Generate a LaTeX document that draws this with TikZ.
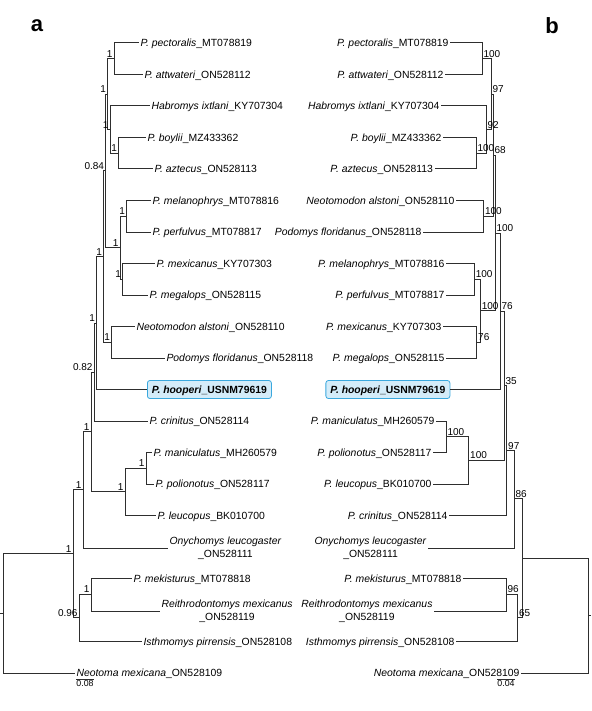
\documentclass[tikz,border=0pt]{standalone}
\usepackage{fontspec}
\setmainfont{Liberation Sans}
\usepackage{tikz}

\definecolor{hoopfill}{RGB}{212,236,249}
\definecolor{hoopline}{RGB}{58,168,222}

\begin{document}
\begin{tikzpicture}[x=1pt, y=-1pt, line width=1pt,
		every node/.style={inner sep=1pt},
		br/.style={draw=black!82},
		lt/.style={anchor=west, font=\fontsize{10.4}{12.5}\selectfont, text height=7.4pt, text depth=0.3pt},
		rt/.style={lt, anchor=east},
		lt2/.style={anchor=west, align=center, font=\fontsize{10.4}{13.3}\selectfont},
		rt2/.style={lt2, anchor=east},
		lhoop/.style={anchor=west, draw=hoopline, fill=hoopfill, rounded corners=2.5pt, line width=0.8pt, inner xsep=4.5pt, minimum height=18pt, font=\fontsize{10.4}{12.5}\selectfont\bfseries, text height=7.4pt, text depth=0.3pt},
		rhoop/.style={lhoop, anchor=east},
		lsup/.style={anchor=south east, font=\fontsize{10}{12}\selectfont},
		rsup/.style={anchor=south west, font=\fontsize{10}{12}\selectfont},
		scl/.style={below, font=\fontsize{8.8}{10}\selectfont},
		panel/.style={font=\fontsize{22}{24}\selectfont\bfseries}]
		\useasboundingbox (0,0) rectangle (591,711);
		\node[panel] (pa) at (37,26) {a};
		\node[panel] (pb) at (552,26) {b};
		
		\coordinate (astub) at (0,613.35);
		\coordinate (aR) at (3,613.35);
		\coordinate (aA) at (73,553.7);
		\coordinate (aB) at (83,489.5);
		\coordinate (aC) at (79,617.9);
		\coordinate (aD) at (91,431.95);
		\coordinate (aE) at (94,372);
		\coordinate (aF) at (125,491.9);
		\coordinate (aG) at (146,468.25);
		\coordinate (aH) at (96.5,323.05);
		\coordinate (aI) at (103.5,256.6);
		\coordinate (aJ) at (105.5,171);
		\coordinate (aK) at (111.5,342.25);
		\coordinate (aP) at (107.5,94.2);
		\coordinate (aQ) at (120,247.75);
		\coordinate (aS1) at (126.5,216.25);
		\coordinate (aS2) at (122.5,279.25);
		\coordinate (aT) at (114,58.75);
		\coordinate (aU) at (110,129.6);
		\coordinate (aV) at (118.5,153.25);
		\coordinate (aW) at (91,594.25);
		
		\node[lt] (apect) at (139,43) {\textit{P. pectoralis}\_MT078819};
		\node[lt] (aattw) at (143,74.5) {\textit{P. attwateri}\_ON528112};
		\node[lt] (ahab) at (150,106) {\textit{Habromys ixtlani}\_KY707304};
		\node[lt] (aboy) at (146,137.5) {\textit{P. boylii}\_MZ433362};
		\node[lt] (aazt) at (153,169) {\textit{P. aztecus}\_ON528113};
		\node[lt] (amel) at (151,200.5) {\textit{P. melanophrys}\_MT078816};
		\node[lt] (aperf) at (151,232) {\textit{P. perfulvus}\_MT078817};
		\node[lt] (amex) at (155,263.5) {\textit{P. mexicanus}\_KY707303};
		\node[lt] (ameg) at (148,295) {\textit{P. megalops}\_ON528115};
		\node[lt] (aneo) at (135,326.5) {\textit{Neotomodon alstoni}\_ON528110};
		\node[lt] (apod) at (165,358) {\textit{Podomys floridanus}\_ON528118};
		\node[lhoop] (ahoop) at (147,389.5) {\textit{P. hooperi}\_USNM79619};
		\node[lt] (acrin) at (148,421) {\textit{P. crinitus}\_ON528114};
		\node[lt] (aman) at (152,452.5) {\textit{P. maniculatus}\_MH260579};
		\node[lt] (apol) at (154,484) {\textit{P. polionotus}\_ON528117};
		\node[lt] (aleu) at (156,515.5) {\textit{P. leucopus}\_BK010700};
		\node[lt2] (aony) at (168,548) {\textit{Onychomys leucogaster}\\\_ON528111};
		\node[lt] (amek) at (132,578.5) {\textit{P. mekisturus}\_MT078818};
		\node[lt2] (areith) at (160,611) {\textit{Reithrodontomys mexicanus}\\\_ON528119};
		\node[lt] (aisth) at (142,641.5) {\textit{Isthmomys pirrensis}\_ON528108};
		\node[lt] (aneot) at (75,673) {\textit{Neotoma mexicana}\_ON528109};
		
		\draw[br] (astub) -- (aR);
		\draw[br] (aR) |- (aA) (aR) |- (aneot.west);
		\draw[br] (aA) |- (aB) (aA) |- (aC);
		\draw[br] (aB) |- (aD) (aB) |- (aony.west);
		\draw[br] (aD) |- (aE) (aD) |- (aF);
		\draw[br] (aF) |- (aG) (aF) |- (aleu.west);
		\draw[br] (aG) |- (aman.west) (aG) |- (apol.west);
		\draw[br] (aE) |- (aH) (aE) |- (acrin.west);
		\draw[br] (aH) |- (aI) (aH) |- (ahoop.west);
		\draw[br] (aI) |- (aJ) (aI) |- (aK);
		\draw[br] (aK) |- (aneo.west) (aK) |- (apod.west);
		\draw[br] (aJ) |- (aP) (aJ) |- (aQ);
		\draw[br] (aQ) |- (aS1) (aQ) |- (aS2);
		\draw[br] (aS1) |- (amel.west) (aS1) |- (aperf.west);
		\draw[br] (aS2) |- (amex.west) (aS2) |- (ameg.west);
		\draw[br] (aP) |- (aT) (aP) |- (aU);
		\draw[br] (aT) |- (apect.west) (aT) |- (aattw.west);
		\draw[br] (aU) |- (ahab.west) (aU) |- (aV);
		\draw[br] (aV) |- (aboy.west) (aV) |- (aazt.west);
		\draw[br] (aC) |- (aW) (aC) |- (aisth.west);
		\draw[br] (aW) |- (amek.west) (aW) |- (areith.west);
		
		\node[lsup] (laA) at (aA) {1};
		\node[lsup] (laB) at (aB) {1};
		\node[lsup] (laC) at (aC) {0.96};
		\node[lsup] (laD) at (aD) {1};
		\node[lsup] (laE) at (aE) {0.82};
		\node[lsup] (laF) at (aF) {1};
		\node[lsup] (laG) at (aG) {1};
		\node[lsup] (laH) at (aH) {1};
		\node[lsup] (laI) at (aI) {1};
		\node[lsup] (laJ) at (aJ) {0.84};
		\node[lsup] (laK) at (aK) {1};
		\node[lsup] (laP) at (aP) {1};
		\node[lsup] (laQ) at (aQ) {1};
		\node[lsup] (laS1) at (aS1) {1};
		\node[lsup] (laS2) at (aS2) {1};
		\node[lsup] (laT) at (aT) {1};
		\node[lsup] (laU) at (aU) {1};
		\node[lsup] (laV) at (aV) {1};
		\node[lsup] (laW) at (aW) {1};
		
		\coordinate (asb1) at (76,679);
		\coordinate (asb2) at (94,679);
		\draw[br] (asb1) -- (asb2) node[scl, midway] (asbl) {0.08};
		
		\coordinate (bstub) at (591,615.7);
		\coordinate (bR) at (588,615.7);
		\coordinate (bA) at (522,558.35);
		\coordinate (bB) at (514,498.8);
		\coordinate (bC) at (517.5,617.9);
		\coordinate (bW) at (506,594.25);
		\coordinate (bD) at (506.7,450.65);
		\coordinate (bE) at (504,385.8);
		\coordinate (bF) at (468.7,460.4);
		\coordinate (bG) at (446,436.75);
		\coordinate (bH) at (500,311.25);
		\coordinate (bI) at (495,233);
		\coordinate (bJ) at (493,155.2);
		\coordinate (bK) at (483.5,216.25);
		\coordinate (bQ) at (480.3,310.75);
		\coordinate (bS1) at (474.3,279.25);
		\coordinate (bS2) at (476.7,342.25);
		\coordinate (bP) at (491,94.2);
		\coordinate (bU) at (486,129.6);
		\coordinate (bT) at (482,58.75);
		\coordinate (bV) at (476,153.25);
		
		\node[rt] (bpect) at (450,43) {\textit{P. pectoralis}\_MT078819};
		\node[rt] (battw) at (445,74.5) {\textit{P. attwateri}\_ON528112};
		\node[rt] (bhab) at (441,106) {\textit{Habromys ixtlani}\_KY707304};
		\node[rt] (bboy) at (443,137.5) {\textit{P. boylii}\_MZ433362};
		\node[rt] (bazt) at (434.5,169) {\textit{P. aztecus}\_ON528113};
		\node[rt] (bneo) at (456,200.5) {\textit{Neotomodon alstoni}\_ON528110};
		\node[rt] (bpod) at (423,232) {\textit{Podomys floridanus}\_ON528118};
		\node[rt] (bmel) at (446,263.5) {\textit{P. melanophrys}\_MT078816};
		\node[rt] (bperf) at (446,295) {\textit{P. perfulvus}\_MT078817};
		\node[rt] (bmex) at (443,326.5) {\textit{P. mexicanus}\_KY707303};
		\node[rt] (bmeg) at (446,358) {\textit{P. megalops}\_ON528115};
		\node[rhoop] (bhoop) at (450.3,389.5) {\textit{P. hooperi}\_USNM79619};
		\node[rt] (bman) at (436,421) {\textit{P. maniculatus}\_MH260579};
		\node[rt] (bpol) at (433,452.5) {\textit{P. polionotus}\_ON528117};
		\node[rt] (bleu) at (433,484) {\textit{P. leucopus}\_BK010700};
		\node[rt] (bcrin) at (449,515.5) {\textit{P. crinitus}\_ON528114};
		\node[rt2] (bony) at (428,548) {\textit{Onychomys leucogaster}\\\_ON528111};
		\node[rt] (bmek) at (463,578.5) {\textit{P. mekisturus}\_MT078818};
		\node[rt2] (breith) at (434,611) {\textit{Reithrodontomys mexicanus}\\\_ON528119};
		\node[rt] (bisth) at (456,641.5) {\textit{Isthmomys pirrensis}\_ON528108};
		\node[rt] (bneot) at (521,673) {\textit{Neotoma mexicana}\_ON528109};
		
		\draw[br] (bR) -- (bstub);
		\draw[br] (bR) |- (bA) (bR) |- (bneot.east);
		\draw[br] (bA) |- (bB) (bA) |- (bC);
		\draw[br] (bB) |- (bD) (bB) |- (bony.east);
		\draw[br] (bD) |- (bE) (bD) |- (bcrin.east);
		\draw[br] (bE) |- (bH) (bE) |- (bF);
		\draw[br] (bF) |- (bG) (bF) |- (bleu.east);
		\draw[br] (bG) |- (bman.east) (bG) |- (bpol.east);
		\draw[br] (bH) |- (bI) (bH) |- (bhoop.east);
		\draw[br] (bI) |- (bJ) (bI) |- (bQ);
		\draw[br] (bJ) |- (bP) (bJ) |- (bK);
		\draw[br] (bK) |- (bneo.east) (bK) |- (bpod.east);
		\draw[br] (bP) |- (bT) (bP) |- (bU);
		\draw[br] (bT) |- (bpect.east) (bT) |- (battw.east);
		\draw[br] (bU) |- (bhab.east) (bU) |- (bV);
		\draw[br] (bV) |- (bboy.east) (bV) |- (bazt.east);
		\draw[br] (bQ) |- (bS1) (bQ) |- (bS2);
		\draw[br] (bS1) |- (bmel.east) (bS1) |- (bperf.east);
		\draw[br] (bS2) |- (bmex.east) (bS2) |- (bmeg.east);
		\draw[br] (bC) |- (bW) (bC) |- (bisth.east);
		\draw[br] (bW) |- (bmek.east) (bW) |- (breith.east);
		
		\node[rsup] (lbB) at (bB) {86};
		\node[rsup] (lbC) at (bC) {65};
		\node[rsup] (lbW) at (bW) {96};
		\node[rsup] (lbD) at (bD) {97};
		\node[rsup] (lbE) at (bE) {35};
		\node[rsup] (lbF) at (bF) {100};
		\node[rsup] (lbG) at (bG) {100};
		\node[rsup] (lbH) at (bH) {76};
		\node[rsup] (lbI) at (bI) {100};
		\node[rsup] (lbJ) at (bJ) {68};
		\node[rsup] (lbK) at (bK) {100};
		\node[rsup] (lbQ) at (bQ) {100};
		\node[rsup] (lbS1) at (bS1) {100};
		\node[rsup] (lbS2) at (bS2) {76};
		\node[rsup] (lbP) at (bP) {97};
		\node[rsup] (lbU) at (bU) {92};
		\node[rsup] (lbT) at (bT) {100};
		\node[rsup] (lbV) at (bV) {100};
		
		\coordinate (bsb1) at (497,679);
		\coordinate (bsb2) at (515,679);
		\draw[br] (bsb1) -- (bsb2) node[scl, midway] (bsbl) {0.04};
\end{tikzpicture}
\end{document}
